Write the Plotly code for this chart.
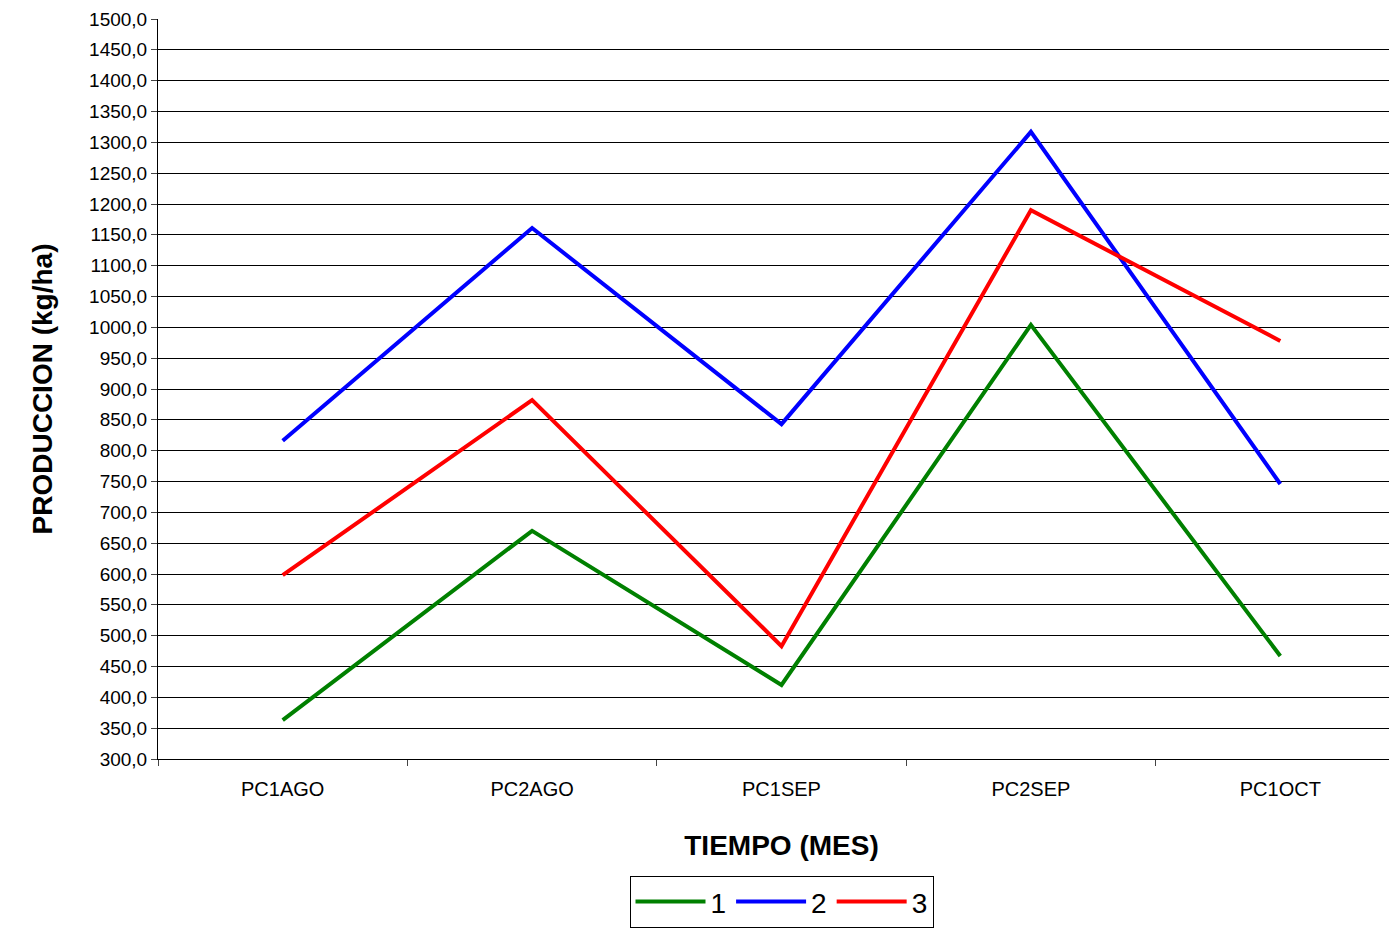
import plotly.graph_objects as go

categories = ["PC1AGO", "PC2AGO", "PC1SEP", "PC2SEP", "PC1OCT"]
serie_1 = [363, 670, 420, 1004, 467]
serie_2 = [816, 1161, 843, 1317, 746]
serie_3 = [598, 882, 483, 1190, 978]
tick_vals = list(range(300, 1501, 50))

fig = go.Figure()
for name, vals, col in [("1", serie_1, "#008000"), ("2", serie_2, "#0000FF"), ("3", serie_3, "#FF0000")]:
    fig.add_trace(go.Scatter(x=categories, y=vals, name=name, mode="lines",
                             line=dict(color=col, width=4)))

fig.update_layout(
    width=1397, height=938, margin=dict(l=150, r=0, t=11, b=187),
    plot_bgcolor="white", paper_bgcolor="white",
    font=dict(family="Arial, Liberation Sans", color="black", size=20),
    separators=",.",
    showlegend=True,
    legend=dict(orientation="h", x=0.5, xanchor="center", y=-0.158, yanchor="top",
                bordercolor="black", borderwidth=1, font=dict(size=28),
                itemwidth=70, tracegroupgap=0),
    xaxis=dict(type="category", tickson="boundaries", ticks="outside", ticklen=6,
               ticklabelstandoff=12,
               showline=True, linecolor="black", showgrid=False, automargin=False,
               tickfont=dict(size=20), range=[-0.5, 4.5],
               title=dict(text="<b>TIEMPO (MES)</b>", font=dict(size=28), standoff=36)),
    yaxis=dict(range=[300, 1500], tickvals=tick_vals, tickformat=".1f",
               showgrid=True, gridcolor="black", gridwidth=1, automargin=False,
               showline=True, linecolor="black", ticks="outside", ticklen=6,
               tickfont=dict(size=19),
               title=dict(text="<b>PRODUCCION (kg/ha)</b>", font=dict(size=28), standoff=28)),
)
fig.write_html("out.html")
